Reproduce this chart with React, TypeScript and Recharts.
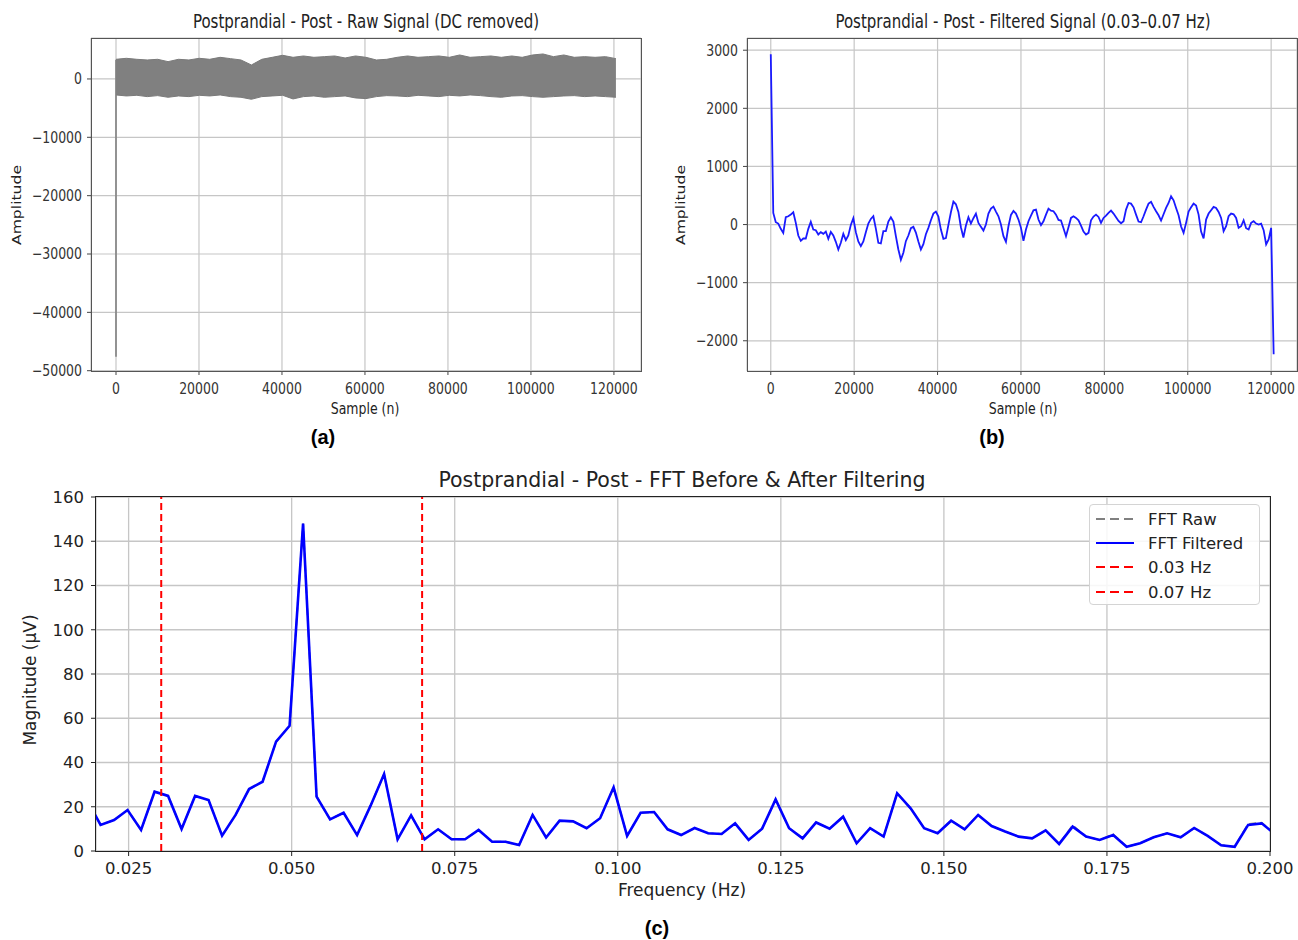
import React from 'react';
import { ComposedChart, LineChart, Line, Area, XAxis, YAxis, CartesianGrid, ReferenceLine } from 'recharts';

// ---------- Panel (a): raw signal (DC removed) envelope ----------
const RAW_STEP = 2510; // samples between envelope readings
const rawUpper = [
  3368, 3539, 3368, 3254, 3368, 2968, 3368, 3254, 3539, 3368,
  3710, 3482, 3254, 2397, 3368, 3710, 4053, 3710, 3939, 3710,
  3824, 3939, 3596, 3939, 3710, 3254, 3368, 3710, 3939, 3710,
  3824, 3939, 3710, 4110, 3710, 3824, 3939, 3710, 3939, 3710,
  4110, 4281, 3824, 4110, 3710, 3824, 3710, 3824, 3482,
];
const rawLower = [
  -2740, -2911, -2797, -3025, -2854, -3139, -2911, -3025, -2797, -2911,
  -2740, -3025, -3139, -3482, -3025, -2911, -2797, -3425, -3025, -2911,
  -3139, -3025, -2911, -3254, -3368, -3025, -2854, -2911, -3025, -2797,
  -2911, -3025, -2797, -2911, -2740, -2854, -3025, -3139, -2911, -2854,
  -3025, -3139, -3025, -2911, -2854, -3025, -2911, -3025, -3139,
];
const rawSpikeTop = 3300;
const rawSpikeBottom = -47600;
const ticksAX = [0, 20000, 40000, 60000, 80000, 100000, 120000];
const ticksAY = [-50000, -40000, -30000, -20000, -10000, 0];

// ---------- Panel (b): filtered signal (0.03–0.07 Hz) ----------
const FILT_STEP = 600;
const filteredSignal = [
  2930,
  200, 40, 17, -74, -143, 126, 143, 171, 211, 29,
  -189, -280, -240, -240, -74, 46, -86, -97, -171, -131,
  -160, -120, -246, -126, -189, -297, -429, -314, -160, -269,
  -189, -6, 109, -131, -291, -371, -291, -131, 17, 97,
  143, -69, -314, -326, -114, -114, 51, 126, 51, -200,
  -429, -606, -486, -286, -189, -63, -40, -137, -291, -429,
  -337, -166, -57, 74, 189, 223, 137, -86, -246, -234,
  -6, 211, 394, 349, 217, -46, -223, -17, 126, 17,
  109, 189, 29, -40, -103, 0, 189, 274, 309, 223,
  143, 0, -200, -297, -29, 166, 234, 189, 86, -57,
  -280, -86, 57, 154, 246, 257, 86, -11, 57, 171,
  274, 240, 229, 171, 80, 69, -63, -200, -46, 114,
  143, 114, 74, -17, -120, -171, -143, 74, 137, 171,
  131, 29, 114, 154, 200, 240, 189, 126, 63, 23,
  57, 257, 371, 360, 297, 171, 51, 40, 143, 257,
  360, 389, 303, 229, 160, 69, 177, 286, 371, 486,
  417, 286, 160, -34, -143, 29, 223, 297, 360, 326,
  171, -120, -240, 86, 189, 246, 303, 286, 217, 114,
  -114, -29, 143, 189, 177, 114, -57, -29, 74, -63,
  -86, 29, 57, 17, 0, 17, -97, -343, -257, -57,
  -2230,
];
const ticksBY = [-2000, -1000, 0, 1000, 2000, 3000];

// ---------- Panel (c): FFT before & after filtering ----------
const fftFreqs = [
  0.01863, 0.02070, 0.02277, 0.02484, 0.02691, 0.02898, 0.03105, 0.03312, 0.03519, 0.03726,
  0.03933, 0.04140, 0.04347, 0.04554, 0.04761, 0.04968, 0.05175, 0.05382, 0.05589, 0.05796,
  0.06003, 0.06210, 0.06417, 0.06624, 0.06831, 0.07038, 0.07245, 0.07452, 0.07659, 0.07866,
  0.08073, 0.08280, 0.08487, 0.08694, 0.08901, 0.09108, 0.09315, 0.09522, 0.09729, 0.09936,
  0.10143, 0.10350, 0.10557, 0.10764, 0.10971, 0.11178, 0.11385, 0.11592, 0.11799, 0.12006,
  0.12213, 0.12420, 0.12627, 0.12834, 0.13041, 0.13248, 0.13455, 0.13662, 0.13869, 0.14076,
  0.14283, 0.14490, 0.14697, 0.14904, 0.15111, 0.15318, 0.15525, 0.15732, 0.15939, 0.16146,
  0.16353, 0.16560, 0.16767, 0.16974, 0.17181, 0.17388, 0.17595, 0.17802, 0.18009, 0.18216,
  0.18423, 0.18630, 0.18837, 0.19044, 0.19251, 0.19458, 0.19665, 0.19872, 0.20079,
];
const fftFiltered = [
  23, 11.8, 14, 18.5, 9.5, 26.8, 24.9, 9.9, 24.9, 23,
  6.9, 16.3, 28, 31.3, 49.4, 56.6, 148, 24.6, 14.3, 17.3,
  7.2, 20.5, 34.8, 5.3, 16.1, 5.3, 9.8, 5.3, 5.3, 9.5,
  4.2, 4.2, 2.7, 16.3, 6.1, 13.7, 13.4, 10.3, 14.8, 28.8,
  6.8, 17.3, 17.6, 9.8, 7.2, 10.4, 8, 7.7, 12.5, 5,
  10.1, 23.3, 10.3, 5.7, 12.9, 10.1, 15.5, 3.5, 10.3, 6.5,
  26.1, 19.3, 10.3, 8, 13.7, 9.8, 16.3, 11.3, 8.8, 6.5,
  5.7, 9.3, 3.2, 11, 6.5, 5, 7.2, 1.9, 3.5, 6.2,
  8, 6.2, 10.4, 6.8, 2.6, 1.9, 11.8, 12.5, 7.6,
];
const fftRaw = [
  23, 11.8, 14, 18.5, 9.5, 26.8, 24.9, 9.9, 24.9, 23,
  6.9, 16.3, 28, 31.3, 49.4, 56.6, 148, 24.6, 14.3, 17.3,
  7.2, 20.5, 34.8, 5.3, 16.1, 5.3, 9.8, 5.3, 5.3, 9.5,
  4.2, 4.2, 2.7, 16.3, 6.1, 13.7, 13.4, 10.3, 14.8, 28.8,
  6.8, 17.3, 17.6, 9.8, 7.2, 10.4, 8, 7.7, 12.5, 5,
  10.1, 23.3, 10.3, 5.7, 12.9, 10.1, 15.5, 3.5, 10.3, 6.5,
  26.1, 19.3, 10.3, 8, 13.7, 9.8, 16.3, 11.3, 8.8, 6.5,
  5.7, 9.3, 3.2, 11.6, 6.5, 5, 7.6, 1.9, 3.5, 6.2,
  8, 6.2, 10.4, 6.8, 2.6, 1.9, 12.2, 12.8, 7.6,
];
const bandLow = 0.03;
const bandHigh = 0.07;
const ticksCX = [0.025, 0.05, 0.075, 0.1, 0.125, 0.15, 0.175, 0.2];
const ticksCY = [0, 20, 40, 60, 80, 100, 120, 140, 160];

// ---------- built tables ----------
const rawData = rawUpper.map((u, i) => ({ x: i * RAW_STEP, band: [rawLower[i], u] }));
const filtData = filteredSignal.map((v, i) => ({ x: i * FILT_STEP, y: v }));
const fftData = fftFreqs.map((f, i) => ({ f, raw: fftRaw[i], filt: fftFiltered[i] }));

const fmtMinus = (v: number) => (v < 0 ? '\u2212' + Math.abs(v) : String(v));
const SY = 1.25;
const SMALL = 12.5;
const FONT = "'DejaVu Sans', sans-serif";

const StretchXTick = (p: any) => {
  const { x, y, payload } = p;
  return (
    <text x={x} y={y} dy="0.71em" textAnchor="middle" fontSize={SMALL} fill="#333" fontFamily={FONT}
      transform={`translate(${x},${y}) scale(1,${SY}) translate(${-x},${-y})`}>
      {fmtMinus(payload.value)}
    </text>
  );
};
const StretchYTick = (p: any) => {
  const { x, y, payload } = p;
  return (
    <text x={x} y={y} dy="0.35em" textAnchor="end" fontSize={SMALL} fill="#333" fontFamily={FONT}
      transform={`translate(${x},${y}) scale(1,${SY}) translate(${-x},${-y})`}>
      {fmtMinus(payload.value)}
    </text>
  );
};

type TProps = { x: number; y: number; size: number; children: React.ReactNode; rot?: boolean; sy?: number; bold?: boolean; family?: string; color?: string };
const T = ({ x, y, size, children, rot, sy = 1, bold, family, color }: TProps) => {
  const t = rot
    ? `translate(-50%,-50%) rotate(-90deg) scale(${sy},1)`
    : `translate(-50%,-50%) scale(1,${sy})`;
  return (
    <div style={{
      position: 'absolute', left: x, top: y, transform: t, whiteSpace: 'nowrap', lineHeight: 1,
      fontSize: size, fontFamily: family || FONT, fontWeight: bold ? 700 : 400, color: color || '#222',
    }}>{children}</div>
  );
};

const Frame = ({ l, t, w, h, c, bw }: { l: number; t: number; w: number; h: number; c: string; bw: number }) => (
  <div style={{ position: 'absolute', left: l, top: t, width: w, height: h, boxSizing: 'border-box', border: `${bw}px solid ${c}`, pointerEvents: 'none' }} />
);

const LegendRow = ({ y, color, dash, label }: { y: number; color: string; dash?: string; label: string }) => (
  <div style={{ position: 'absolute', left: 0, top: y - 10, height: 20, width: 170 }}>
    <svg width={50} height={20} style={{ position: 'absolute', left: 0, top: 0 }}>
      <line x1={6} y1={10} x2={44} y2={10} stroke={color} strokeWidth={2.2} strokeDasharray={dash} />
    </svg>
    <span style={{ position: 'absolute', left: 58, top: 1, fontSize: 16.5, fontFamily: FONT, color: '#222', whiteSpace: 'nowrap' }}>{label}</span>
  </div>
);

export default function App() {
  return (
    <div style={{ position: 'absolute', left: 0, top: 0, width: 1298, height: 940, background: '#fff', overflow: 'hidden' }}>
      {/* Panel (a) */}
      <div style={{ position: 'absolute', left: 0, top: 0 }}>
        <ComposedChart width={650} height={420} data={rawData} margin={{ top: 38, right: 9, bottom: 19, left: 21 }}>
          <CartesianGrid stroke="#c6c6c6" strokeWidth={1.2} />
          <XAxis dataKey="x" type="number" domain={[-6025, 126525]} ticks={ticksAX} allowDataOverflow
            height={30} tickSize={4} tickMargin={8} axisLine={false} tickLine={{ stroke: '#444' }} tick={<StretchXTick />} interval={0} />
          <YAxis type="number" domain={[-50050, 7020]} ticks={ticksAY} allowDataOverflow width={70}
            tickSize={4} tickMargin={5} axisLine={false} tickLine={{ stroke: '#444' }} tick={<StretchYTick />} interval={0} />
          <Area dataKey="band" type="linear" stroke="#7a7a7a" strokeWidth={1} fill="#808080" fillOpacity={1} isAnimationActive={false} dot={false} activeDot={false} />
          <ReferenceLine segment={[{ x: 0, y: rawSpikeTop }, { x: 0, y: rawSpikeBottom }]} stroke="#808080" strokeWidth={1.6} />
        </ComposedChart>
      </div>
      <Frame l={91} t={38} w={551} h={334} c="#555" bw={1.3} />
      <T x={366} y={22} size={15} sy={SY}>Postprandial - Post - Raw Signal (DC removed)</T>
      <T x={17} y={205} size={SMALL} sy={SY} rot>Amplitude</T>
      <T x={365} y={409} size={SMALL} sy={SY}>Sample (n)</T>
      <T x={323} y={437} size={20} bold family="'Liberation Sans', Arial, sans-serif" color="#000">(a)</T>

      {/* Panel (b) */}
      <div style={{ position: 'absolute', left: 650, top: 0 }}>
        <LineChart width={648} height={420} data={filtData} margin={{ top: 38, right: 1, bottom: 19, left: 27 }}>
          <CartesianGrid stroke="#c6c6c6" strokeWidth={1.2} />
          <XAxis dataKey="x" type="number" domain={[-5700, 126200]} ticks={ticksAX} allowDataOverflow
            height={30} tickSize={4} tickMargin={8} axisLine={false} tickLine={{ stroke: '#444' }} tick={<StretchXTick />} interval={0} />
          <YAxis type="number" domain={[-2520, 3210]} ticks={ticksBY} allowDataOverflow width={70}
            tickSize={4} tickMargin={5} axisLine={false} tickLine={{ stroke: '#444' }} tick={<StretchYTick />} interval={0} />
          <Line dataKey="y" type="linear" stroke="#1a1aff" strokeWidth={1.8} dot={false} activeDot={false} isAnimationActive={false} />
        </LineChart>
      </div>
      <Frame l={747} t={38} w={551} h={334} c="#555" bw={1.3} />
      <T x={1023} y={22} size={15} sy={SY}>Postprandial - Post - Filtered Signal (0.03–0.07 Hz)</T>
      <T x={681} y={205} size={SMALL} sy={SY} rot>Amplitude</T>
      <T x={1023} y={409} size={SMALL} sy={SY}>Sample (n)</T>
      <T x={992} y={437} size={20} bold family="'Liberation Sans', Arial, sans-serif" color="#000">(b)</T>

      {/* Panel (c) */}
      <div style={{ position: 'absolute', left: 0, top: 460 }}>
        <ComposedChart width={1298} height={480} data={fftData} margin={{ top: 37, right: 28, bottom: 59, left: 36 }}>
          <CartesianGrid stroke="#c6c6c6" strokeWidth={1.3} />
          <XAxis dataKey="f" type="number" domain={[0.02, 0.2]} ticks={ticksCX} allowDataOverflow interval={0}
            height={30} tickSize={5} tickMargin={6} axisLine={false} tickLine={{ stroke: '#222' }}
            tickFormatter={(v: number) => v.toFixed(3)} tick={{ fontSize: 16.5, fill: '#222', fontFamily: FONT }} />
          <YAxis type="number" domain={[0, 160]} ticks={ticksCY} allowDataOverflow interval={0} width={60}
            tickSize={5} tickMargin={7} axisLine={false} tickLine={{ stroke: '#222' }}
            tick={{ fontSize: 16.5, fill: '#222', fontFamily: FONT }} />
          <Line dataKey="raw" type="linear" stroke="#808080" strokeWidth={1.8} strokeDasharray="7 4" dot={false} activeDot={false} isAnimationActive={false} />
          <Line dataKey="filt" type="linear" stroke="#0000ff" strokeWidth={2.6} dot={false} activeDot={false} isAnimationActive={false} />
          <ReferenceLine x={bandLow} stroke="#ff0000" strokeWidth={2} strokeDasharray="7 4" />
          <ReferenceLine x={bandHigh} stroke="#ff0000" strokeWidth={2} strokeDasharray="7 4" />
        </ComposedChart>
      </div>
      <Frame l={95} t={496} w={1176} h={356} c="#222" bw={1.4} />
      <T x={682} y={480} size={20.5}>Postprandial - Post - FFT Before &amp; After Filtering</T>
      <T x={682} y={890} size={17}>Frequency (Hz)</T>
      <T x={30} y={680} size={17} rot>Magnitude (µV)</T>
      <T x={657} y={928} size={20} bold family="'Liberation Sans', Arial, sans-serif" color="#000">(c)</T>

      {/* Legend (c) */}
      <div style={{ position: 'absolute', left: 1089, top: 504, width: 171, height: 101, boxSizing: 'border-box', border: '1px solid #d4d4d4', borderRadius: 4, background: 'rgba(255,255,255,0.85)' }}>
        <LegendRow y={14} color="#808080" dash="9 5" label="FFT Raw" />
        <LegendRow y={38} color="#0000ff" label="FFT Filtered" />
        <LegendRow y={62} color="#ff0000" dash="9 5" label="0.03 Hz" />
        <LegendRow y={87} color="#ff0000" dash="9 5" label="0.07 Hz" />
      </div>
    </div>
  );
}
